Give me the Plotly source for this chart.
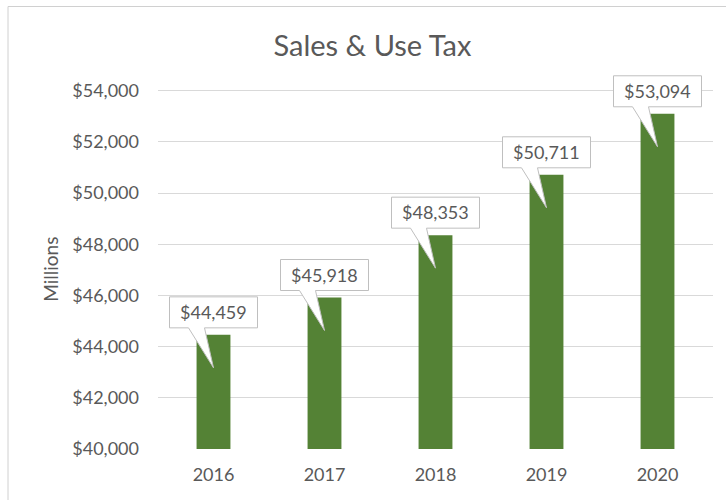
import plotly.graph_objects as go

years = ["2016", "2017", "2018", "2019", "2020"]
sales_tax = [44459, 45918, 48353, 50711, 53094]
label_texts = ["$44,459", "$45,918", "$48,353", "$50,711", "$53,094"]
y_ticks = [40000, 42000, 44000, 46000, 48000, 50000, 52000, 54000]
y_tick_text = ["$40,000", "$42,000", "$44,000", "$46,000", "$48,000", "$50,000", "$52,000", "$54,000"]

FONT = "Lato, Carlito, 'Open Sans', sans-serif"
TXT = "#595959"
BAR = "#548235"
GRID = "#d9d9d9"

W, H = 726, 500
Y_LO, Y_TOP_TICK, Y_HI = 40000, 54000, 55000   # extra headroom so callouts are not clipped
ML, MR, MB = 158, 13, 51
PX_PER_UNIT = 358 / (Y_TOP_TICK - Y_LO)
PH = PX_PER_UNIT * (Y_HI - Y_LO)
MT = H - MB - PH
PW = W - ML - MR

fig = go.Figure()
fig.add_trace(go.Bar(
    x=years, y=sales_tax, marker=dict(color=BAR, line=dict(width=0)),
    hoverinfo="skip", showlegend=False,
))

# callout boxes (pixel-sized, anchored at bar tops)
callout = "M -44,7 L -44,38 L 44,38 L 44,7 L -9,7 L 0,-33 L -25,7 Z"
shapes = []
annotations = []
for i, (yr, v, t) in enumerate(zip(years, sales_tax, label_texts)):
    shapes.append(dict(
        type="path", xref="x", yref="y", xsizemode="pixel", ysizemode="pixel",
        xanchor=i, yanchor=v, path=callout,
        fillcolor="white", line=dict(color="#bfbfbf", width=1), layer="above",
    ))
    annotations.append(dict(
        x=i, y=v, xref="x", yref="y", text=t, showarrow=False,
        yshift=23, yanchor="middle", xanchor="center",
        font=dict(family=FONT, size=18, color=TXT),
    ))

# axis title (centred on the visible value range)
annotations.append(dict(
    x=(51 - ML) / PW, xref="paper", y=(Y_LO + Y_TOP_TICK) / 2, yref="y",
    text="Millions", textangle=-90, showarrow=False, xanchor="center", yanchor="middle",
    font=dict(family=FONT, size=19, color=TXT),
))

# chart frame
shapes.append(dict(
    type="rect", xref="paper", yref="paper",
    x0=(8 - ML) / PW, x1=1.2, y0=-0.3, y1=(H - MB - 7) / PH,
    line=dict(color="#d0d0d0", width=1), fillcolor="rgba(0,0,0,0)", layer="below",
))

fig.update_layout(
    width=W, height=H,
    margin=dict(l=ML, r=MR, t=MT, b=MB, pad=0, autoexpand=False),
    paper_bgcolor="white", plot_bgcolor="white",
    bargap=0.695,
    title=dict(text="Sales & Use Tax", x=0.513, xref="container", xanchor="center",
               y=1 - 46 / H, yref="container", yanchor="middle",
               font=dict(family=FONT, size=29, color=TXT)),
    font=dict(family=FONT, color=TXT),
    shapes=shapes, annotations=annotations,
    xaxis=dict(type="category", range=[-0.5, len(years) - 0.5], autorange=False,
               showgrid=False, showline=False, zeroline=False, ticks="",
               tickfont=dict(family=FONT, size=18, color=TXT), ticklabelstandoff=13,
               fixedrange=True),
    yaxis=dict(range=[Y_LO, Y_HI], autorange=False, tickmode="array",
               tickvals=y_ticks, ticktext=y_tick_text,
               showgrid=True, gridcolor=GRID, gridwidth=1, zeroline=False, showline=False,
               ticks="", tickfont=dict(family=FONT, size=18, color=TXT), ticklabelstandoff=18,
               automargin=False, fixedrange=True),
)

fig.write_html("out.html", config={"displayModeBar": False},
               post_script="document.body.style.margin='0';document.body.style.overflow='hidden';")
